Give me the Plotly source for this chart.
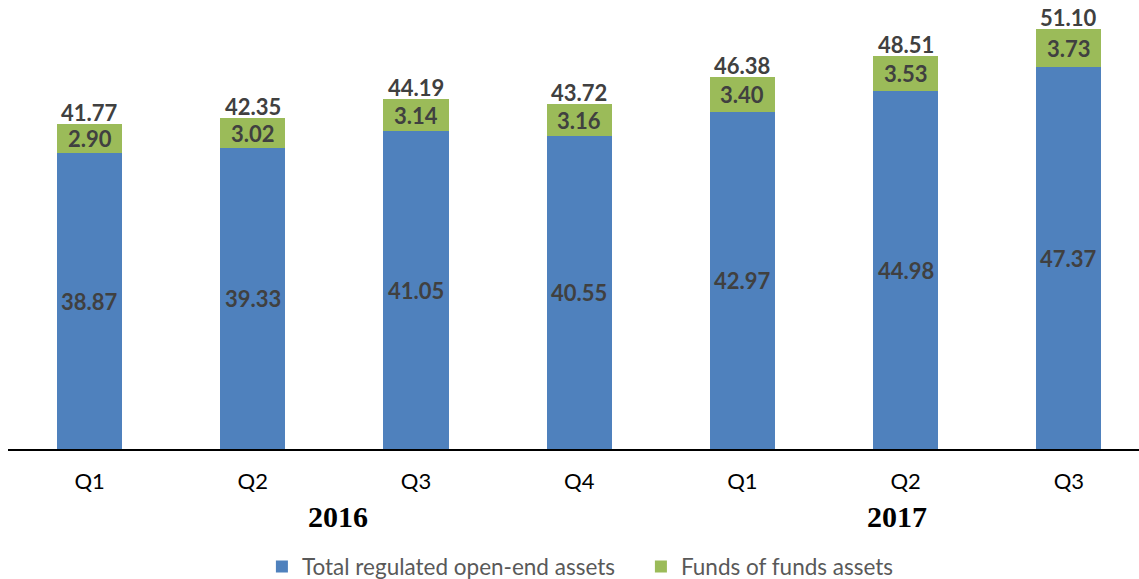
import plotly.graph_objects as go

quarters = ["Q1", "Q2", "Q3", "Q4", "Q1", "Q2", "Q3"]
years = ["2016", "2017"]
year_pos = [1.52, 4.95]
open_end = [38.87, 39.33, 41.05, 40.55, 42.97, 44.98, 47.37]
fof = [2.90, 3.02, 3.14, 3.16, 3.40, 3.53, 3.73]
totals = [41.77, 42.35, 44.19, 43.72, 46.38, 48.51, 51.10]

BLUE = "#4F81BD"
GREEN = "#9BBB59"
LABEL = "#404040"
Y_MIN, Y_MAX = 9.62, 54.0
FONT = "Lato"

x = list(range(len(quarters)))

fig = go.Figure()
fig.add_trace(go.Bar(x=x, y=open_end, name="Total regulated open-end assets",
                     marker=dict(color=BLUE, line=dict(width=0)), width=0.4))
fig.add_trace(go.Bar(x=x, y=fof, name="Funds of funds assets",
                     marker=dict(color=GREEN, line=dict(width=0)), width=0.4))

ann = []
lab_font = dict(family=FONT, size=22, color=LABEL, weight="bold")
for i in x:
    ann.append(dict(x=i, y=(Y_MIN + open_end[i]) / 2, text=f"{open_end[i]:.2f}",
                    showarrow=False, font=lab_font, xref="x", yref="y"))
    ann.append(dict(x=i, y=open_end[i] + fof[i] / 2, text=f"{fof[i]:.2f}",
                    showarrow=False, font=lab_font, xref="x", yref="y"))
    ann.append(dict(x=i, y=totals[i], text=f"{totals[i]:.2f}", yanchor="bottom",
                    yshift=-4, showarrow=False, font=lab_font, xref="x", yref="y"))
for yr, xp in zip(years, year_pos):
    ann.append(dict(x=xp, y=-0.151, text=yr, showarrow=False, xref="x", yref="paper",
                    yanchor="middle",
                    font=dict(family="Liberation Serif", size=30, color="black", weight="bold")))

fig.update_layout(
    barmode="stack",
    width=1139, height=579,
    margin=dict(l=8, r=0, t=0, b=130),
    plot_bgcolor="white", paper_bgcolor="white",
    annotations=ann,
    xaxis=dict(range=[-0.5, 6.43], tickvals=x, ticktext=quarters, showgrid=False,
               zeroline=False, showline=True, linecolor="black", linewidth=1.5,
               ticks="", ticklabelstandoff=12, automargin=False,
               tickfont=dict(family=FONT, size=22, color="black")),
    yaxis=dict(range=[Y_MIN, Y_MAX], visible=False, showgrid=False, zeroline=False,
               automargin=False),
    legend=dict(orientation="h", x=0.2245, xanchor="left", yref="container", y=0.021,
                yanchor="middle", entrywidth=334, entrywidthmode="pixels",
                font=dict(family=FONT, size=22.5, color="#595959"), itemwidth=30,
                traceorder="normal"),
    showlegend=True,
)
fig.write_html("out.html")
